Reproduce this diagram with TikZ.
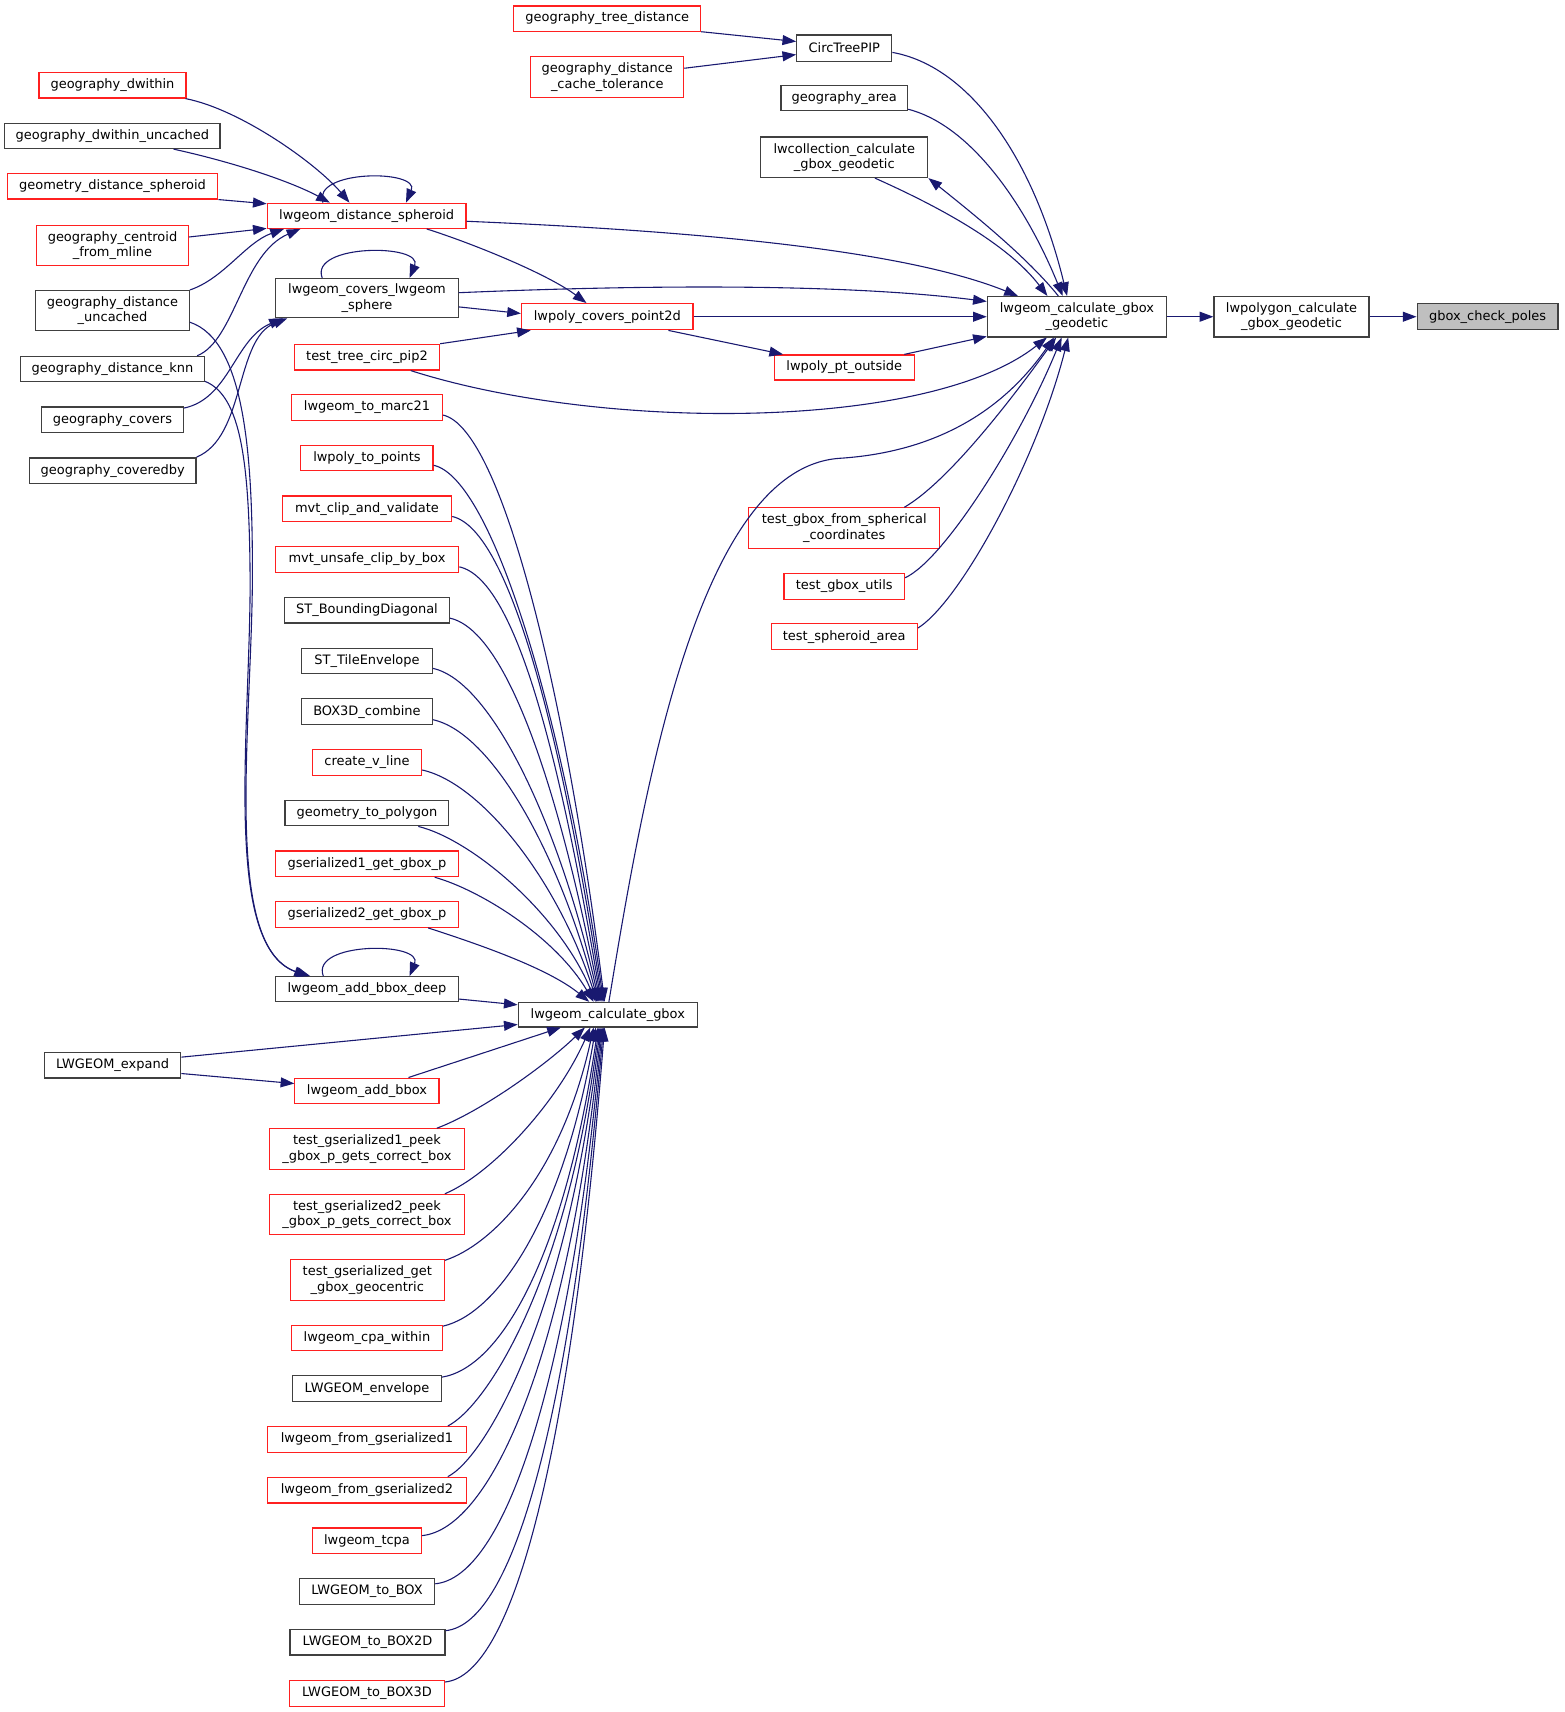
\documentclass[tikz,border=0pt]{standalone}
\usepackage{fontspec}
\setmainfont{DejaVu Sans}
\usetikzlibrary{arrows.meta,calc}
\definecolor{nred}{HTML}{FF2020}
\definecolor{nblk}{HTML}{404040}
\definecolor{eblue}{HTML}{191970}
\definecolor{gfill}{HTML}{BFBFBF}
\newcommand\dgfont{\fontsize{8.9}{10.5}\selectfont}
\tikzset{
  nd/.style={draw, line width=0.8pt, font=\dgfont, inner sep=0pt, align=center, fill=white},
  rb/.style={nd, draw=nred},
  kb/.style={nd, draw=nblk},
  sz/.style 2 args={minimum width=#1*0.75pt, minimum height=#2*0.75pt},
  edge/.style={draw=eblue, line width=0.75pt, -{Triangle[length=9.4pt,width=6.8pt]}},
}
\begin{document}
\begin{tikzpicture}[x=0.75pt,y=-0.75pt]
\useasboundingbox (0,0) rectangle (1432,1567.5);
% right part
\node[kb, fill=gfill, sz={129}{24}] (gcp) at (1362,290) {gbox\_check\_poles};
\node[kb, sz={142}{37}] (lpg) at (1182.5,290) {lwpolygon\_calculate\\\_gbox\_geodetic};
\node[kb, sz={164}{37}] (geo) at (986,290) {lwgeom\_calculate\_gbox\\\_geodetic};
\node[rb, sz={171}{23}] (gtd) at (556,17) {geography\_tree\_distance};
\node[kb, sz={87}{24}] (ctp) at (773,44) {CircTreePIP};
\node[rb, sz={140}{37}] (gdct) at (556,70.5) {geography\_distance\\\_cache\_tolerance};
\node[kb, sz={116}{23}] (garea) at (773,90) {geography\_area};
\node[kb, sz={153}{37}] (lwc) at (773,144) {lwcollection\_calculate\\\_gbox\_geodetic};
\node[rb, sz={157}{24}] (lcp) at (556,290) {lwpoly\_covers\_point2d};
\node[rb, sz={128}{23}] (lpo) at (773,336.5) {lwpoly\_pt\_outside};
\node[rb, sz={175}{37}] (tgs) at (773,483.5) {test\_gbox\_from\_spherical\\\_coordinates};
\node[rb, sz={110.5}{23.5}] (tgu) at (773,537) {test\_gbox\_utils};
\node[rb, sz={134}{24}] (tsa) at (773,583) {test\_spheroid\_area};
% middle column
\node[rb, sz={182}{23}] (lds) at (335.7,197.6) {lwgeom\_distance\_spheroid};
\node[kb, sz={167}{36}] (lcs) at (336,273) {lwgeom\_covers\_lwgeom\\\_sphere};
\node[rb, sz={133}{23.5}] (ttc) at (336,327) {test\_tree\_circ\_pip2};
\node[rb, sz={138}{23.5}] (m1) at (336,373) {lwgeom\_to\_marc21};
\node[rb, sz={121}{23.5}] (m2) at (336,419.4) {lwpoly\_to\_points};
\node[rb, sz={155}{23.5}] (m3) at (336,465.9) {mvt\_clip\_and\_validate};
\node[rb, sz={168}{23.5}] (m4) at (336,512.3) {mvt\_unsafe\_clip\_by\_box};
\node[kb, sz={151}{23.5}] (m5) at (336,558.7) {ST\_BoundingDiagonal};
\node[kb, sz={120}{23.5}] (m6) at (336,605.2) {ST\_TileEnvelope};
\node[kb, sz={120}{23.5}] (m7) at (336,651.6) {BOX3D\_combine};
\node[rb, sz={100}{23.5}] (m8) at (336,698) {create\_v\_line};
\node[kb, sz={150}{23.5}] (m9) at (336,744.4) {geometry\_to\_polygon};
\node[rb, sz={167}{23.5}] (m10) at (336,790.9) {gserialized1\_get\_gbox\_p};
\node[rb, sz={167}{23.5}] (m11) at (336,837.3) {gserialized2\_get\_gbox\_p};
\node[kb, sz={167}{23}] (abd) at (336,905.7) {lwgeom\_add\_bbox\_deep};
\node[kb, sz={164}{22.5}] (lcg) at (556.5,929) {lwgeom\_calculate\_gbox};
\node[rb, sz={132}{23}] (lab) at (336,998.6) {lwgeom\_add\_bbox};
\node[rb, sz={179}{37}] (b1) at (336,1052) {test\_gserialized1\_peek\\\_gbox\_p\_gets\_correct\_box};
\node[rb, sz={179}{37}] (b2) at (336,1112) {test\_gserialized2\_peek\\\_gbox\_p\_gets\_correct\_box};
\node[rb, sz={141}{37}] (b3) at (336.3,1172) {test\_gserialized\_get\\\_gbox\_geocentric};
\node[rb, sz={138}{23.5}] (b4) at (336,1225) {lwgeom\_cpa\_within};
\node[kb, sz={136}{23.5}] (b5) at (336,1271.4) {LWGEOM\_envelope};
\node[rb, sz={182.5}{23.5}] (b6) at (336,1317.9) {lwgeom\_from\_gserialized1};
\node[rb, sz={182.5}{23.5}] (b7) at (336,1364.3) {lwgeom\_from\_gserialized2};
\node[rb, sz={99.5}{23.5}] (b8) at (336,1410.7) {lwgeom\_tcpa};
\node[kb, sz={124}{23.5}] (b9) at (336,1457.1) {LWGEOM\_to\_BOX};
\node[kb, sz={142}{23.5}] (b10) at (336.5,1503.6) {LWGEOM\_to\_BOX2D};
\node[rb, sz={142}{23.5}] (b11) at (336,1550.4) {LWGEOM\_to\_BOX3D};
% left column
\node[rb, sz={134.6}{23.5}] (gdw) at (103,78) {geography\_dwithin};
\node[kb, sz={197}{23}] (gdwu) at (102.9,124.5) {geography\_dwithin\_uncached};
\node[rb, sz={193}{23.2}] (gds) at (103,170.6) {geometry\_distance\_spheroid};
\node[rb, sz={139}{36.6}] (gcm) at (103,224.6) {geography\_centroid\\\_from\_mline};
\node[kb, sz={140.6}{36.7}] (gdu) at (103,284.5) {geography\_distance\\\_uncached};
\node[kb, sz={168}{23.3}] (gdk) at (103,337.9) {geography\_distance\_knn};
\node[kb, sz={130}{23.5}] (gcov) at (103,384.4) {geography\_covers};
\node[kb, sz={152.6}{23.2}] (gcob) at (103.2,431) {geography\_coveredby};
\node[kb, sz={125}{23.2}] (lex) at (103,975.4) {LWGEOM\_expand};

% ---- edges: right part
\draw[edge] (lpg) -- (gcp);
\draw[edge] (geo) -- (lpg);
\draw[edge] (gtd.south east) -- ($(ctp.west)+(0,-6)$);
\draw[edge] ($(gdct.east)+(0,-8)$) -- ($(ctp.west)+(0,6)$);
\draw[edge] ($(ctp.east)+(0,4)$) .. controls (885,60) and (945,140) .. ($(geo.north)+(-9,0)$);
\draw[edge] ($(garea.south east)+(0,-2)$) .. controls (890,115) and (940,190) .. ($(geo.north)+(-13,0)$);
\draw[edge] ($(lwc.south)+(28,0)$) .. controls (850,185) and (920,220) .. ($(geo.north)+(-27,0)$);
\draw[edge] ($(geo.north)+(-17,0)$) .. controls (940,235) and (890,195) .. (lwc.south east);
\draw[edge] ($(lds.east)+(0,5)$) .. controls (650,212) and (830,230) .. ($(geo.north)+(-54,0)$);
\draw[edge] ($(lds.south)+(55,0)$) .. controls (430,222) and (500,250) .. ($(lcp.north)+(-19,0)$);
\draw[edge] ($(lcs.east)+(0,-5)$) .. controls (560,262) and (760,258) .. ($(geo.west)+(0,-14)$);
\draw[edge] ($(lcs.east)+(0,8)$) -- ($(lcp.west)+(0,-3)$);
\draw[edge] (lcp) -- (geo);
\draw[edge] ($(lcp.south)+(56,0)$) -- ($(lpo.north)+(-56,0)$);
\draw[edge] ($(lpo.north)+(55,0)$) -- ($(geo.west)+(0,18)$);
\draw[edge] (ttc.north east) -- ($(lcp.south west)+(9,0)$);
\draw[edge] ($(ttc.south)+(40,0)$) .. controls (550,395) and (850,395) .. ($(geo.south)+(-27.5,0)$);
\draw[edge] ($(lcg.north)+(1,0)$) .. controls (590,720) and (640,428) .. (769,419.6) .. controls (829,415.7) and (905,395) .. ($(geo.south)+(-21,0)$);
\draw[edge] ($(tgs.north)+(55,0)$) .. controls (870,440) and (930,360) .. ($(geo.south)+(-19,0)$);
\draw[edge] ($(tgu.east)+(0,-8)$) .. controls (865,512) and (935,400) .. ($(geo.south)+(-14,0)$);
\draw[edge] ($(tsa.east)+(0,-8)$) .. controls (880,550) and (950,420) .. ($(geo.south)+(-8,0)$);
% self loops
\draw[edge] ($(lds.north)+(-40,0)$) .. controls (285,155) and (385,155) .. ($(lds.north)+(36,0)$);
\draw[edge] ($(lcs.north)+(-41,0)$) .. controls (283,223) and (388,223) .. ($(lcs.north)+(39,0)$);
\draw[edge] ($(abd.north)+(-40,0)$) .. controls (284,862) and (388,862) .. ($(abd.north)+(39,0)$);
% left column edges
\draw[edge] ($(gdw.south east)+(-1,0)$) .. controls (220,100) and (290,150) .. ($(lds.north)+(-15.7,0)$);
\draw[edge] ($(gdwu.south)+(56,0)$) .. controls (220,150) and (270,168) .. ($(lds.north)+(-33.7,0)$);
\draw[edge] (gds.south east) -- ($(lds.north west)+(0,1)$);
\draw[edge] ($(gcm.east)+(0,-7.6)$) -- ($(lds.south west)+(0,-0.5)$);
\draw[edge] ($(gdu.east)+(0,-19)$) .. controls (205,255) and (225,222) .. ($(lds.south)+(-75.7,0)$);
\draw[edge] ($(gdk.north east)+(-7,0)$) .. controls (215,312) and (222,232) .. ($(lds.south)+(-60.7,0)$);
\draw[edge] ($(gcov.east)+(0,-10.8)$) .. controls (210,365) and (215,310) .. ($(lcs.south)+(-77,0)$);
\draw[edge] ($(gcob.east)+(0,-12.5)$) .. controls (225,400) and (215,310) .. ($(lcs.south)+(-73,0)$);
\draw[edge] ($(gdu.east)+(0,10.5)$) .. controls (225,312) and (232,420) .. (231,540) .. controls (229,680) and (205,870) .. ($(abd.north)+(-52,0)$);
\draw[edge] ($(gdk.south east)+(0,-1)$) .. controls (220,362) and (229,420) .. (229,540) .. controls (228,680) and (205,866) .. ($(abd.north)+(-54,0)$);
% into lwgeom_calculate_gbox from above
\draw[edge] ($(m1.east)+(0,7)$) .. controls (460,392) and (518.5,638) .. ($(lcg.north)+(-3,0)$);
\draw[edge] ($(m2.east)+(0,6.6)$) .. controls (451.5,438) and (517.5,662) .. ($(lcg.north)+(-4,0)$);
\draw[edge] ($(m3.east)+(0,7)$) .. controls (468.5,485) and (516.5,687) .. ($(lcg.north)+(-5,0)$);
\draw[edge] ($(m4.east)+(0,6.7)$) .. controls (475,531) and (515.5,711) .. ($(lcg.north)+(-6,0)$);
\draw[edge] ($(m5.east)+(0,7.3)$) .. controls (466.5,578) and (514.5,735) .. ($(lcg.north)+(-7,0)$);
\draw[edge] ($(m6.east)+(0,6.8)$) .. controls (451,624) and (513.5,759) .. ($(lcg.north)+(-8,0)$);
\draw[edge] ($(m7.east)+(0,7.4)$) .. controls (451,671) and (512.5,783) .. ($(lcg.north)+(-9,0)$);
\draw[edge] ($(m8.east)+(0,7)$) .. controls (441,717) and (511.5,807) .. ($(lcg.north)+(-10,0)$);
\draw[edge] ($(m9.south)+(47,0)$) .. controls (430,768) and (510.5,834) .. ($(lcg.north)+(-11,0)$);
\draw[edge] ($(m10.south)+(62,0)$) .. controls (440,815) and (508.5,858) .. ($(lcg.north)+(-13,0)$);
\draw[edge] ($(m11.south)+(56,0)$) .. controls (430,862) and (500,885) .. ($(lcg.north)+(-17,0)$);
\draw[edge] ($(abd.east)+(0,9)$) -- ($(lcg.west)+(0,-9)$);
\draw[edge] ($(lex.east)+(0,-7.5)$) -- ($(lcg.west)+(0,9)$);
\draw[edge] ($(lex.east)+(0,7.5)$) -- ($(lab.west)+(0,-6.5)$);
\draw[edge] ($(lab.north)+(38,0)$) -- ($(lcg.south)+(-43,0)$);
% into lwgeom_calculate_gbox from below
\draw[edge] ($(b1.north)+(64,0)$) .. controls (440,1018) and (500,975) .. ($(lcg.south)+(-21,0)$);
\draw[edge] ($(b2.north)+(71.4,0)$) .. controls (450,1075) and (510,1010) .. ($(lcg.south)+(-16,0)$);
\draw[edge] ($(b3.north east)+(0,1)$) .. controls (450,1140) and (513.5,1077) .. ($(lcg.south)+(-13,0)$);
\draw[edge] ($(b4.north east)+(0,1.5)$) .. controls (455,1203) and (515.5,1116) .. ($(lcg.south)+(-11,0)$);
\draw[edge] ($(b5.north east)+(0,1.8)$) .. controls (460,1252) and (517.5,1146) .. ($(lcg.south)+(-9,0)$);
\draw[edge] ($(b6.north)+(74,0)$) .. controls (445,1288) and (518.5,1175) .. ($(lcg.south)+(-8,0)$);
\draw[edge] ($(b7.north)+(74,0)$) .. controls (445,1334) and (519.5,1204.5) .. ($(lcg.south)+(-7,0)$);
\draw[edge] ($(b8.east)+(0,-4.7)$) .. controls (450,1400) and (520.5,1239) .. ($(lcg.south)+(-6,0)$);
\draw[edge] ($(b9.east)+(0,-7)$) .. controls (462,1444) and (521.5,1267) .. ($(lcg.south)+(-5,0)$);
\draw[edge] ($(b10.east)+(0,-10.6)$) .. controls (471,1487) and (522.5,1294) .. ($(lcg.south)+(-4,0)$);
\draw[edge] ($(b11.east)+(0,-10.4)$) .. controls (471,1534) and (523.5,1324) .. ($(lcg.south)+(-3,0)$);
\end{tikzpicture}
\end{document}
